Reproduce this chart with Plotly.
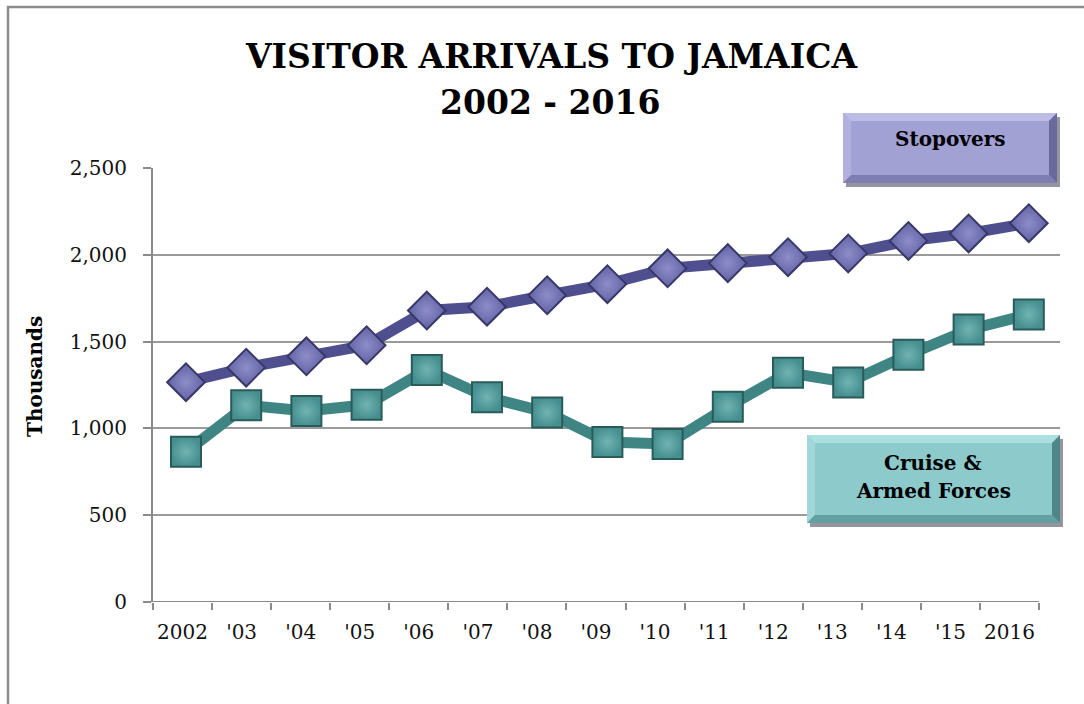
import plotly.graph_objects as go

# ---- data (thousands of visitors) ----
years = ["2002", "'03", "'04", "'05", "'06", "'07", "'08", "'09",
         "'10", "'11", "'12", "'13", "'14", "'15", "2016"]
stopovers = [1266, 1350, 1415, 1479, 1679, 1701, 1767, 1831,
             1922, 1952, 1986, 2008, 2080, 2123, 2182]
cruise = [865, 1133, 1100, 1136, 1337, 1180, 1092, 922,
          910, 1125, 1320, 1265, 1424, 1569, 1656]
y_ticks = [0, 500, 1000, 1500, 2000, 2500]
y_tick_labels = ["0", "500", "1,000", "1,500", "2,000", "2,500"]
grid_values = [500, 1000, 1500, 2000, 2500]

# ---- page geometry ----
W, H = 1084, 704
ML, MR, MT, MB = 153, 24, 168, 102
PW = W - ML - MR
PH = H - MT - MB


def px(x):
    return (x - ML) / PW


def py(y):
    return (H - MB - y) / PH


# category axis: points sit at integer positions, slots are slightly narrower
X_MIN, X_MAX = -0.548, 14.518
SLOT = 0.9812
idx = list(range(len(years)))
label_pos = [X_MIN + (i + 0.5) * SLOT for i in idx]
axis_end = X_MIN + len(years) * SLOT

SERIF = "DejaVu Serif"
GRAY = "#8a8a8a"

fig = go.Figure()

fig.add_trace(go.Scatter(
    x=idx, y=cruise, mode="lines+markers", name="Cruise & Armed Forces",
    line=dict(color="#3e8584", width=11),
    marker=dict(symbol="square", size=30, color="#468f8f",
                gradient=dict(type="radial", color="#72b3b3"),
                line=dict(color="#2a5b5b", width=2)),
    showlegend=False, hoverinfo="skip",
))
fig.add_trace(go.Scatter(
    x=idx, y=stopovers, mode="lines+markers", name="Stopovers",
    line=dict(color="#4f4e8f", width=11),
    marker=dict(symbol="diamond", size=29, color="#6262a6",
                gradient=dict(type="radial", color="#8e8dc8"),
                line=dict(color="#383868", width=2)),
    showlegend=False, hoverinfo="skip",
))
# carrier for the gridline axis
fig.add_trace(go.Scatter(x=[None], y=[None], yaxis="y2",
                         showlegend=False, hoverinfo="skip"))

shapes = []
# outer frame
shapes.append(dict(type="rect", xref="paper", yref="paper",
                   x0=px(8), y0=py(7), x1=px(1100), y1=py(720),
                   line=dict(color="#8c8c8c", width=2.5), layer="below"))
# x-axis baseline
shapes.append(dict(type="line", xref="x", yref="y",
                   x0=X_MIN, x1=axis_end, y0=0, y1=0,
                   line=dict(color=GRAY, width=2)))


def path(points):
    return "M " + " L ".join(f"{px(a):.5f},{py(b):.5f}" for a, b in points) + " Z"


def bevel_box(x0, y0, x1, y1, face, top, left, bottom, right, b=8):
    out = []
    out.append(dict(type="rect", xref="paper", yref="paper",
                    x0=px(x0 + 3), y0=py(y0 + 4), x1=px(x1 + 3), y1=py(y1 + 4),
                    fillcolor="rgba(20,20,40,0.45)", line=dict(width=0)))
    out.append(dict(type="rect", xref="paper", yref="paper",
                    x0=px(x0), y0=py(y0), x1=px(x1), y1=py(y1),
                    fillcolor=face, line=dict(width=0)))
    for pts, col in [
        ([(x0, y0), (x1, y0), (x1 - b, y0 + b), (x0 + b, y0 + b)], top),
        ([(x0, y0), (x0 + b, y0 + b), (x0 + b, y1 - b), (x0, y1)], left),
        ([(x0, y1), (x0 + b, y1 - b), (x1 - b, y1 - b), (x1, y1)], bottom),
        ([(x1, y0), (x1, y1), (x1 - b, y1 - b), (x1 - b, y0 + b)], right),
    ]:
        out.append(dict(type="path", xref="paper", yref="paper",
                        path=path(pts), fillcolor=col, line=dict(width=0)))
    return out


shapes += bevel_box(843, 113, 1057, 183, "#a2a1d3", "#bdbce6", "#b2b1de",
                    "#7f7eb2", "#6a699c")
shapes += bevel_box(807, 435, 1060, 523, "#8ccacc", "#ace0e0", "#a0d8d9",
                    "#62a0a2", "#4f8789")

annotations = [
    dict(text="<b>VISITOR ARRIVALS TO JAMAICA</b>", x=px(551), y=py(56),
         xref="paper", yref="paper", showarrow=False, xanchor="center",
         yanchor="middle", font=dict(family=SERIF, size=33, color="#000000")),
    dict(text="<b>2002 - 2016</b>", x=px(550), y=py(102),
         xref="paper", yref="paper", showarrow=False, xanchor="center",
         yanchor="middle", font=dict(family=SERIF, size=33, color="#000000")),
    dict(text="<b>Thousands</b>", x=px(35), y=py(376), textangle=-90,
         xref="paper", yref="paper", showarrow=False, xanchor="center",
         yanchor="middle", font=dict(family=SERIF, size=20, color="#000000")),
    dict(text="<b>Stopovers</b>", x=px(950), y=py(139),
         xref="paper", yref="paper", showarrow=False, xanchor="center",
         yanchor="middle", font=dict(family=SERIF, size=20, color="#000000")),
    dict(text="<b>Cruise &amp;</b>", x=px(933), y=py(463),
         xref="paper", yref="paper", showarrow=False, xanchor="center",
         yanchor="middle", font=dict(family=SERIF, size=20, color="#000000")),
    dict(text="<b>Armed Forces</b>", x=px(933), y=py(491),
         xref="paper", yref="paper", showarrow=False, xanchor="center",
         yanchor="middle", font=dict(family=SERIF, size=20, color="#000000")),
]

fig.update_layout(
    width=W, height=H,
    margin=dict(l=ML, r=MR, t=MT, b=MB, pad=0),
    paper_bgcolor="white", plot_bgcolor="white",
    xaxis=dict(range=[X_MIN, X_MAX], tickmode="array", tickvals=label_pos,
               ticktext=years, ticks="", showgrid=False, zeroline=False,
               showline=False,
               tickfont=dict(family=SERIF, size=20, color="#111111"),
               ticklabelstandoff=16,
               minor=dict(tick0=X_MIN, dtick=SLOT, ticks="outside",
                          ticklen=7, tickwidth=2, tickcolor=GRAY,
                          showgrid=False)),
    yaxis=dict(range=[0, 2500], tickmode="array", tickvals=y_ticks,
               ticktext=y_tick_labels, ticks="outside", ticklen=8,
               tickwidth=2, tickcolor=GRAY, showline=True, linecolor=GRAY,
               linewidth=2, showgrid=False, zeroline=False,
               tickfont=dict(family=SERIF, size=20, color="#111111"),
               ticklabelstandoff=12),
    yaxis2=dict(range=[0, 2500], overlaying="y", side="left",
                tickmode="array", tickvals=grid_values, showgrid=True,
                gridcolor="#9a9a9a", gridwidth=1.5, showticklabels=False,
                ticks="", zeroline=False, showline=False),
    shapes=shapes,
    annotations=annotations,
)

fig.write_html("out.html")
